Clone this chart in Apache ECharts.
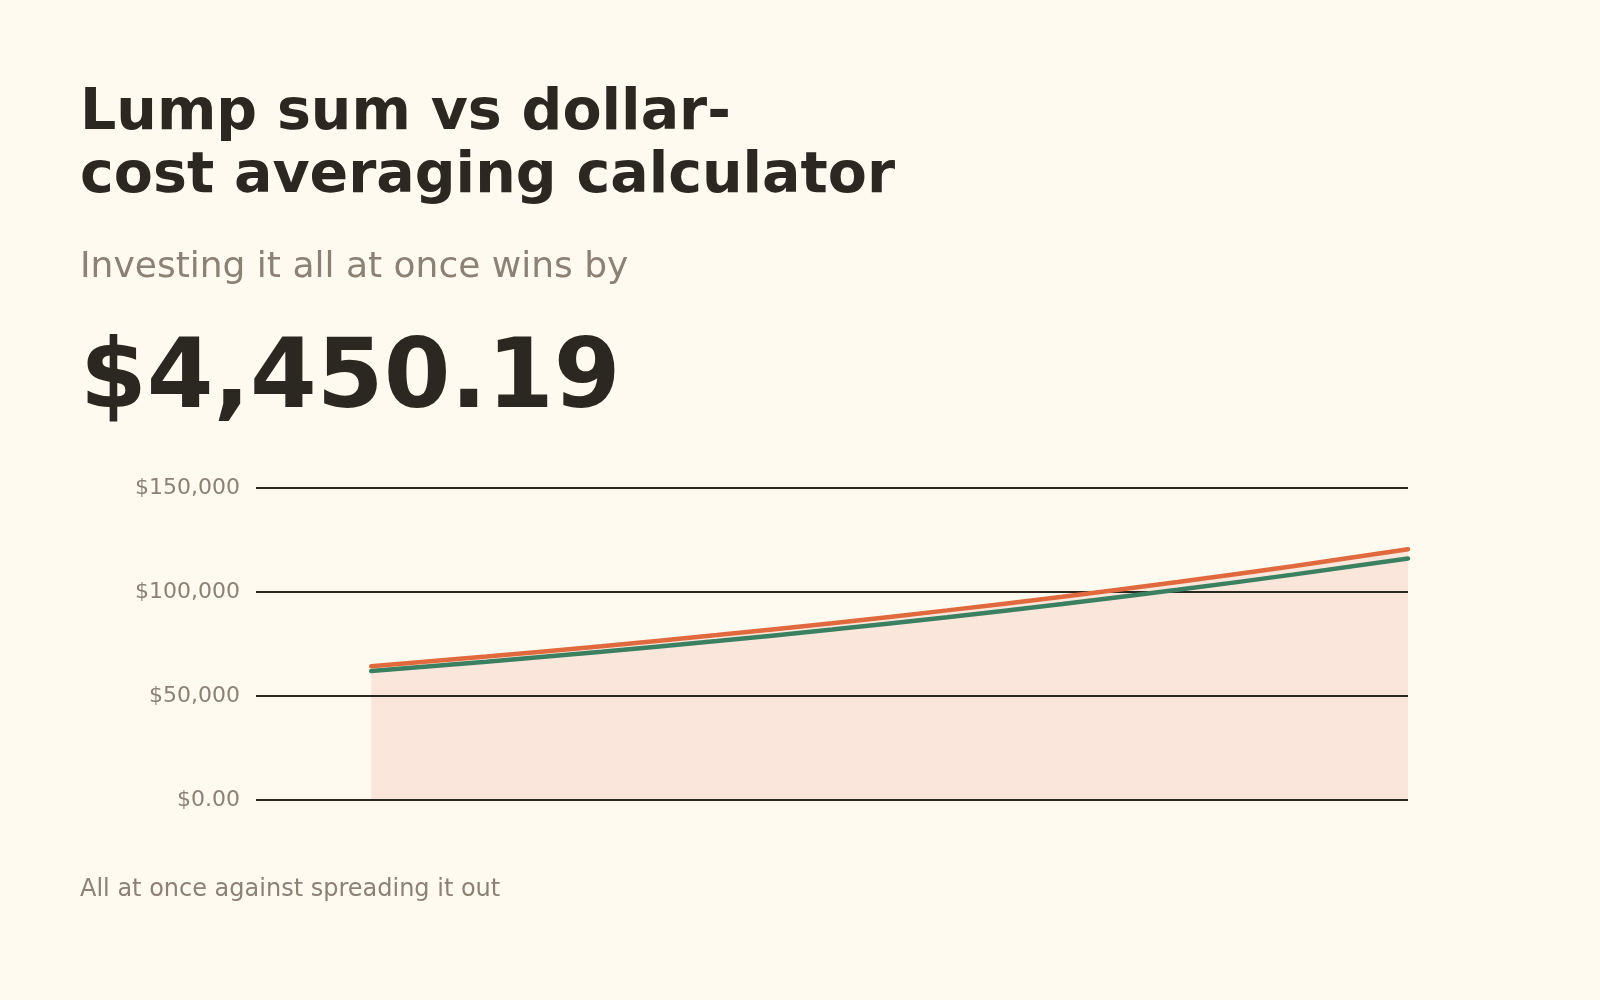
<!DOCTYPE html>
<html>
<head>
<meta charset="utf-8">
<script src="https://cdn.jsdelivr.net/npm/echarts@6/dist/echarts.min.js"></script>
<style>
html,body{margin:0;padding:0;background:#fffaf0;}
#c{width:1600px;height:1000px;}
</style>
</head>
<body>
<div id="c"></div>
<script>
const years = [1, 2, 3, 4, 5, 6, 7, 8, 9, 10];
const lumpSum = [64300, 68950, 73940, 79280, 85010, 91160, 97750, 104820, 112400, 120530];
const dollarCost = [62000, 66480, 71280, 76430, 81960, 87890, 94240, 101050, 108360, 116080];
const yTicks = [0, 50000, 100000, 150000];

const FONT = 'DejaVu Sans';
const lumpData = years.map((y, i) => [y, lumpSum[i]]);
const dcaData = years.map((y, i) => [y, dollarCost[i]]);
const chart = echarts.init(document.getElementById('c'));
chart.setOption({
  backgroundColor: '#fffaf0',
  animation: false,
  title: [
    { text: 'Lump sum vs dollar-\ncost averaging calculator', left: 80, top: 83, padding: 0,
      textStyle: { fontFamily: FONT, fontWeight: 'bold', fontSize: 57, lineHeight: 63, color: '#2b2822' } },
    { text: 'Investing it all at once wins by', left: 80, top: 250, padding: 0,
      textStyle: { fontFamily: FONT, fontWeight: 'normal', fontSize: 36, lineHeight: 36, color: '#8c8175' } },
    { text: '$4,450.19', left: 80, top: 334, padding: 0,
      textStyle: { fontFamily: FONT, fontWeight: 'bold', fontSize: 96, lineHeight: 96, color: '#2b2822' } },
    { text: 'All at once against spreading it out', left: 80, top: 878, padding: 0,
      textStyle: { fontFamily: FONT, fontWeight: 'normal', fontSize: 24, lineHeight: 24, color: '#8c8175' } }
  ],
  grid: { left: 256, right: 192, top: 488, bottom: 200 },
  xAxis: { type: 'value', min: 0, max: 10, show: false },
  yAxis: {
    type: 'value', min: yTicks[0], max: yTicks[yTicks.length - 1], interval: 50000,
    z: 2,
    axisLine: { show: false }, axisTick: { show: false },
    splitLine: { lineStyle: { color: '#2b2822', width: 2 } },
    axisLabel: {
      margin: 16, fontFamily: FONT, fontSize: 22, color: '#8c8175',
      formatter: v => v === 0 ? '$0.00' : '$' + v.toLocaleString('en-US')
    }
  },
  series: [
    {
      name: 'Lump sum area', type: 'line', smooth: true, symbol: 'none',
      data: lumpData, silent: true,
      lineStyle: { width: 0, opacity: 0 },
      areaStyle: { color: '#fae6da', opacity: 1 },
      z: 1
    },
    {
      name: 'Lump sum', type: 'line', smooth: true, symbol: 'none',
      data: lumpData,
      lineStyle: { color: '#e0693e', width: 4.5, cap: 'round' },
      z: 4
    },
    {
      name: 'Dollar-cost averaging', type: 'line', smooth: true, symbol: 'none',
      data: dcaData,
      lineStyle: { color: '#3b8060', width: 4.5, cap: 'round' },
      z: 3
    }
  ]
});
</script>
</body>
</html>
